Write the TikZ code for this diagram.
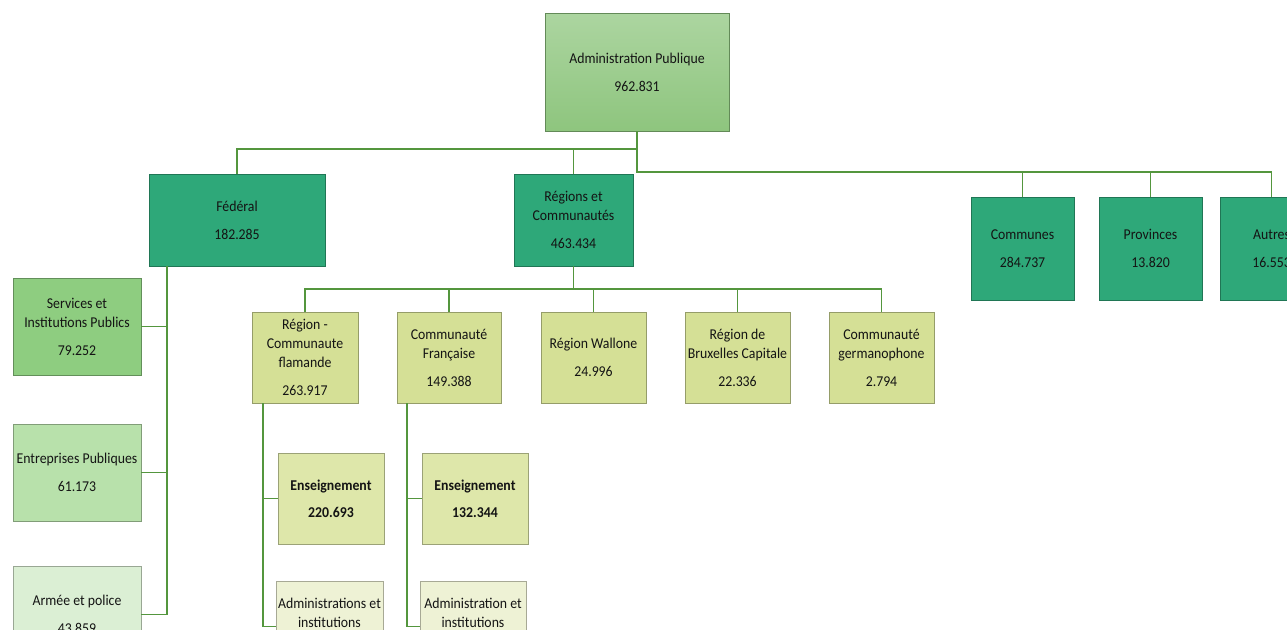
\documentclass[tikz,border=0pt]{standalone}
\usepackage{fontspec}
\setmainfont{Carlito}[FakeStretch=0.92]
\usepackage{tikz}
\usetikzlibrary{positioning,calc}
\tikzset{every node/.append style={align=center}}
\definecolor{roottop}{RGB}{172, 213, 160}
\definecolor{rootbottom}{RGB}{142, 197, 126}
\definecolor{govcolor}{RGB}{46, 168, 121}
\definecolor{servcolor}{RGB}{142, 205, 128}
\definecolor{entrcolor}{RGB}{184, 225, 171}
\definecolor{armycolor}{RGB}{219, 239, 212}
\definecolor{entitycolor}{RGB}{213, 224, 150}
\definecolor{educolor}{RGB}{222, 231, 170}
\definecolor{admcolor}{RGB}{238, 242, 213}
\definecolor{linkcolor}{RGB}{84, 150, 62}

\begin{document}
\begin{tikzpicture}[
    x=1pt, y=-1pt,
    orgbox/.style={rectangle, draw=#1!70!black, fill=#1, line width=0.5pt, inner sep=1pt, text=black!92, font=\fontsize{15}{19}\selectfont},
    gov/.style={orgbox=govcolor, minimum height=92pt},
    local/.style={orgbox=govcolor, minimum width=103pt, minimum height=103pt},
    federal/.style={orgbox=#1, minimum width=128pt, minimum height=97pt},
    entity/.style={orgbox=entitycolor, minimum width=105pt, minimum height=91pt},
    sector/.style={orgbox=#1, minimum width=106pt, minimum height=91pt},
    link/.style={draw=linkcolor, line width=1.8pt}
]
    \clip (0,0) rectangle (1287,629);

    % Root
    \node[orgbox=rootbottom, top color=roottop, bottom color=rootbottom, minimum width=184pt, minimum height=118pt] (admin) at (637,72) {Administration Publique\\[9pt]962.831};

    % Levels of power
    \node[gov, minimum width=176pt] (fed) at (237,220) {Fédéral\\[9pt]182.285};
    \node[gov, minimum width=119pt] (reg) at (573.5,220) {Régions et\\Communautés\\[9pt]463.434};
    \node[local] (communes) at (1022.5,248.5) {Communes\\[9pt]284.737};
    \node[local] (provinces) at (1150.5,248.5) {Provinces\\[9pt]13.820};
    \node[local] (autres) at (1271.5,248.5) {Autres\\[9pt]16.553};

    % Federal
    \node[federal=servcolor] (services) at (77,326.5) {Services et\\Institutions Publics\\[9pt]79.252};
    \node[federal=entrcolor] (entreprises) at (77,472.5) {Entreprises Publiques\\[9pt]61.173};
    \node[federal=armycolor] (armee) at (77,614.5) {Armée et police\\[9pt]43.859};

    % Regions and communities
    \node[entity, minimum width=106pt] (flamande) at (305,357.5) {Région -\\Communaute\\flamande\\[9pt]263.917};
    \node[entity, minimum width=104pt] (francaise) at (449,357.5) {Communauté\\Française\\[9pt]149.388};
    \node[entity] (wallone) at (593.5,357.5) {Région Wallone\\[9pt]24.996};
    \node[entity] (bruxelles) at (737.5,357.5) {Région de\\Bruxelles Capitale\\[9pt]22.336};
    \node[entity] (germano) at (881.5,357.5) {Communauté\\germanophone\\[9pt]2.794};

    % Sectors
    \node[sector=educolor, font=\fontsize{15}{19}\selectfont\bfseries] (ens1) at (331,498.5) {Enseignement\\[8pt]220.693};
    \node[sector=educolor, font=\fontsize{15}{19}\selectfont\bfseries] (ens2) at (475,498.5) {Enseignement\\[8pt]132.344};
    \node[sector=admcolor, minimum width=107pt] (adm1) at (329.5,626.5) {Administrations et\\institutions\\[9pt]~};
    \node[sector=admcolor] (adm2) at (473,626.5) {Administration et\\institutions\\[9pt]~};

    % Links
    \draw[link] (admin.south) -- ++(0,18) -| (fed.north);
    \draw[link] (admin.south) -- ++(0,18) -| (reg.north);
    \foreach \n in {communes,provinces,autres}
        \draw[link] (admin.south) -- ++(0,41) -| (\n.north);
    \foreach \n in {services,entreprises,armee}
        \draw[link] ([xshift=-70pt]fed.south) |- (\n.east);
    \foreach \n in {flamande,francaise,wallone,bruxelles,germano}
        \draw[link] (reg.south) -- ++(0,23) -| (\n.north);
    \draw[link] ([xshift=-42pt]flamande.south) |- (ens1.west);
    \draw[link] ([xshift=-42pt]flamande.south) |- (adm1.west);
    \draw[link] ([xshift=-42pt]francaise.south) |- (ens2.west);
    \draw[link] ([xshift=-42pt]francaise.south) |- (adm2.west);

\end{tikzpicture}
\end{document}
